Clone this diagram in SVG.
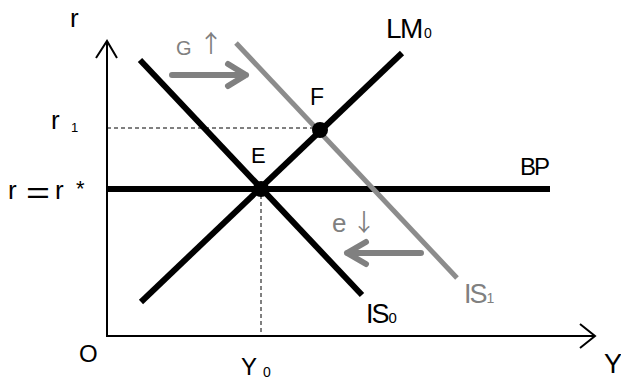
<svg xmlns="http://www.w3.org/2000/svg" width="621" height="380" viewBox="0 0 621 380">
<style>
text{font-family:"Liberation Sans",Arial,sans-serif;fill:#000}
.g{fill:#808080}
.arr{font-family:"Noto Sans CJK JP","Noto Sans CJK SC",sans-serif;text-anchor:middle}
.curve{fill:none;stroke:#000;stroke-width:6}
.gcurve{fill:none;stroke:#8c8c8c;stroke-width:5}
.axis{fill:none;stroke:#000;stroke-width:2}
.dash{fill:none;stroke:#000;stroke-width:1;stroke-dasharray:4,3}
.garrow{fill:none;stroke:#808080;stroke-width:6;stroke-linecap:round;stroke-linejoin:round}
</style>
<rect width="621" height="380" fill="#fff"/>
<g id="connectors">
  <path class="axis" d="M107,42 V336 H594"/>
  <path class="axis" d="M96,58 L107,41 L117,58"/>
  <path class="axis" d="M580,324 L595,336 L580,348"/>
  <path class="dash" d="M107,128 H320"/>
  <path class="dash" d="M261,188 V336"/>
  <path class="garrow" d="M172,75 H246 M228,64 L246,75 L228,86"/>
  <path class="garrow" d="M421,253 H347 M366,242 L347,253 L366,264"/>
</g>
<g id="BP"><path class="curve" d="M107,189 H550"/><text x="520" y="175" font-size="24" letter-spacing="-2">BP</text></g>
<g id="IS1"><path class="gcurve" d="M236,43 L457,278"/><text x="464" y="303" font-size="27" class="g" letter-spacing="-2">IS<tspan font-size="14" dx="1">1</tspan></text></g>
<g id="LM0"><path class="curve" d="M141,302 L402,53"/><text x="386" y="38" font-size="28" letter-spacing="-1.5">LM<tspan font-size="14" dx="2">0</tspan></text></g>
<g id="IS0"><path class="curve" d="M140,60 L362,295"/><text x="366" y="323" font-size="27" letter-spacing="-2">IS<tspan font-size="15" dx="1">0</tspan></text></g>
<g id="E"><circle cx="261" cy="189" r="8"/><text x="251" y="163" font-size="22">E</text></g>
<g id="F"><circle cx="320" cy="130" r="8"/><text x="310" y="105" font-size="23">F</text></g>
<g id="labels">
  <text x="70" y="27" font-size="26">r</text>
  <text x="51" y="129" font-size="26">r</text><text x="71" y="132" font-size="13">1</text>
  <text x="8" y="199" font-size="26">r</text><text x="26" y="203" font-size="30" textLength="24" lengthAdjust="spacingAndGlyphs">=</text><text x="55" y="199" font-size="26">r</text><text x="76" y="196" font-size="22">*</text>
  <text x="79" y="362" font-size="24">O</text>
  <text x="241" y="375" font-size="24">Y</text><text x="263" y="377" font-size="14">0</text>
  <text x="604" y="373" font-size="27">Y</text>
  <text x="176" y="55" font-size="20" class="g">G</text>
  <text x="211" y="52" font-size="24" class="g arr">↑</text>
  <text x="332" y="232" font-size="26" class="g">e</text>
  <text x="364" y="231" font-size="24" class="g arr">↓</text>
</g>
</svg>
